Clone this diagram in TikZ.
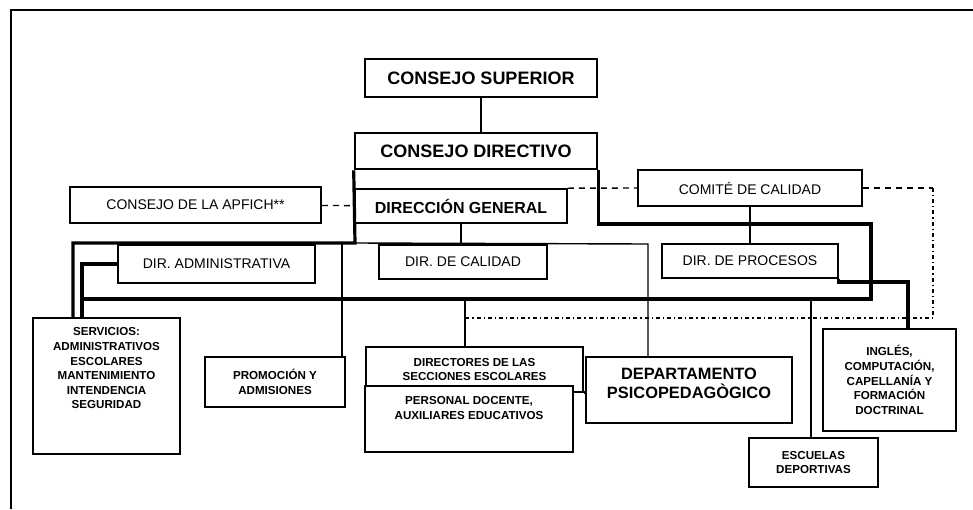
\documentclass[tikz,border=0pt]{standalone}
\usepackage{fontspec}
\setmainfont{Liberation Sans}
\usetikzlibrary{positioning}

\begin{document}
\begin{tikzpicture}[x=0.5pt,y=-0.5pt,
    box/.style={draw,line width=0.8pt,inner sep=1pt,align=center,font=\fontsize{7}{8.5}\selectfont},
    headbox/.style={box,line width=1.3pt,font=\fontsize{9}{11}\selectfont\bfseries},
    smallbox/.style={box,line width=0.7pt,font=\fontsize{5.8}{7.3}\selectfont\bfseries},
    smalltext/.style={inner sep=1pt,align=center,font=\fontsize{5.8}{7.3}\selectfont\bfseries},
    link/.style={line width=0.7pt},
    bus/.style={line width=1.6pt},
    dashlink/.style={line width=0.7pt,dash pattern=on 3pt off 2.5pt},
    dotlink/.style={line width=0.7pt,dash pattern=on 2pt off 1.5pt on 0.6pt off 1.5pt}]
    \useasboundingbox (0,0) rectangle (973,509);

    % frame
    \draw[line width=0.6pt] (11,509) -- (11,10) -- (973,10);

    % top of the chart
    \node[headbox,minimum width=116pt,minimum height=19pt] (cs) at (481,78) {CONSEJO SUPERIOR};
    \node[headbox,minimum width=121pt,minimum height=18pt] (cd) at (476,151) {CONSEJO DIRECTIVO};
    \node[box,font=\fontsize{8}{10}\selectfont\bfseries,minimum width=106pt,minimum height=17pt] (dg) at (461,206) {DIRECCIÓN GENERAL};
    \node[box,minimum width=125.5pt,minimum height=18pt] (apfich) at (195.5,205) {CONSEJO DE LA APFICH**};
    \node[box,minimum width=112pt,minimum height=18pt] (comite) at (750,188) {COMITÉ DE CALIDAD};

    % directions
    \node[box,minimum width=98.5pt,minimum height=19pt] (diradm) at (216.5,264) {DIR. ADMINISTRATIVA};
    \node[box,minimum width=84pt,minimum height=17pt] (dircal) at (463,262) {DIR. DE CALIDAD};
    \node[box,minimum width=88pt,minimum height=17pt] (dirproc) at (750,261) {DIR. DE PROCESOS};

    % lower boxes
    \node[smallbox,minimum width=73.5pt,minimum height=68pt] (servicios) at (106.5,386) {};
    \node[smalltext,below=4pt of servicios.north] (serviciostext)
        {SERVICIOS:\\ADMINISTRATIVOS\\ESCOLARES\\MANTENIMIENTO\\INTENDENCIA\\SEGURIDAD};
    \node[smallbox,minimum width=70pt,minimum height=25pt] (promocion) at (275,382) {PROMOCIÓN Y\\ADMISIONES};
    \node[smallbox,minimum width=108.5pt,minimum height=22.5pt] (directores) at (474.5,369.5) {DIRECTORES DE LAS\\SECCIONES ESCOLARES};
    \node[smallbox,fill=white,minimum width=104pt,minimum height=33pt] (personal) at (469,419) {};
    \node[smalltext,below=4.5pt of personal.north] (personaltext) {PERSONAL DOCENTE,\\AUXILIARES EDUCATIVOS};
    \node[box,minimum width=103pt,minimum height=33pt] (depto) at (689,390) {};
    \node[inner sep=1pt,align=center,font=\fontsize{8.2}{9.5}\selectfont\bfseries,below=4.5pt of depto.north] (deptotext)
        {DEPARTAMENTO\\PSICOPEDAGÒGICO};
    \node[smallbox,minimum width=66.5pt,minimum height=51pt] (ingles) at (889.5,380)
        {INGLÉS,\\COMPUTACIÓN,\\CAPELLANÍA Y\\FORMACIÓN\\DOCTRINAL};
    \node[smallbox,minimum width=64.5pt,minimum height=24.5pt] (escuelas) at (813.5,462.5) {ESCUELAS\\DEPORTIVAS};

    % bends of the connectors
    \coordinate (lcorner) at (355,243);
    \coordinate (lbend) at (73,243);
    \coordinate (rcorner) at (871,224);
    \coordinate (busl) at (82,299);
    \coordinate (busr) at (871,299);
    \coordinate (psicx) at (648,244);
    \coordinate (promx) at (342,243);
    \coordinate (dirtap) at (465,299);
    \coordinate (escx) at (811,299);
    \coordinate (procbend) at (908,282);
    \coordinate (dashr) at (933,188);
    \coordinate (dashb) at (933,318);
    \coordinate (dashl) at (465,318);

    % solid lines
    \draw[link] (cs.south) -- (cs.south |- cd.north);
    \draw[link] (dg.south) -- (dg.south |- dircal.north);
    \draw[link] (comite) -- (dirproc);
    \draw[bus] (cd.south west) -- (lcorner) -- (lbend) -- (lbend |- servicios.north);
    \draw[bus] (diradm.west) -| (busl |- servicios.north);
    \draw[bus] (cd.south east) |- (rcorner) -- (busr) -- (busl);
    \draw[bus] (dirproc.south east) |- (procbend) -- (procbend |- ingles.north);
    \draw[link] (lcorner) -- (psicx) -- (psicx |- depto.north);
    \draw[link] (promx) -- (promx |- promocion.north);
    \draw[link] (dirtap) -- (dirtap |- directores.north);
    \draw[link,line width=1pt] (escx) -- (escx |- escuelas.north);
    \draw[bus] (directores.south east) -- (depto.west |- directores.south east);

    % dashed lines
    \draw[dashlink] (apfich) -- (dg);
    \draw[dashlink] (dg.north east) -- (comite.west);
    \draw[dashlink] (comite.east) -- (dashr);
    \draw[dotlink] (dashr) -- (dashb) -- (dashl);
\end{tikzpicture}
\end{document}
